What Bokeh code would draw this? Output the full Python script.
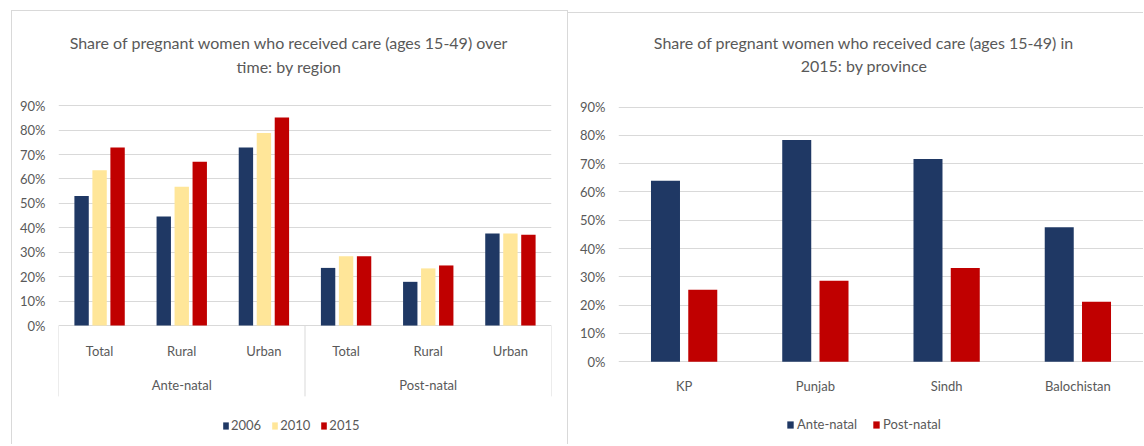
from bokeh.plotting import figure
from bokeh.models import (FactorRange, Range1d, FixedTicker, NumeralTickFormatter,
                          Legend, LegendItem, ColumnDataSource)
from bokeh.transform import dodge
from bokeh.layouts import row
from bokeh.core.properties import value
from bokeh.embed import file_html
from bokeh.resources import INLINE

# ---------------- data ----------------
care_types = ["Ante-natal", "Post-natal"]
regions = ["Total", "Rural", "Urban"]
years = ["2006", "2010", "2015"]
share_2006 = [0.530, 0.446, 0.729, 0.236, 0.179, 0.377]
share_2010 = [0.636, 0.568, 0.788, 0.284, 0.234, 0.377]
share_2015 = [0.729, 0.671, 0.852, 0.284, 0.246, 0.372]

provinces = ["KP", "Punjab", "Sindh", "Balochistan"]
ante_natal = [0.640, 0.784, 0.717, 0.475]
post_natal = [0.254, 0.286, 0.331, 0.212]
care_labels = ["Ante-natal", "Post-natal"]

pct_ticks = [0.0, 0.1, 0.2, 0.3, 0.4, 0.5, 0.6, 0.7, 0.8, 0.9]

title_left = ["Share of pregnant women who received care (ages 15-49) over", "time: by region"]
title_right = ["Share of pregnant women who received care (ages 15-49) in", "2015: by province"]

# ---------------- style ----------------
NAVY = "#1f3864"
YELLOW = "#ffe699"
RED = "#c00000"
GRID = "#d9d9d9"
TXT = "#595959"
FONT = "Lato"
BORDER = "1px solid #d9d9d9"


def style_common(p):
    p.outline_line_color = None
    p.yaxis.ticker = FixedTicker(ticks=pct_ticks)
    p.yaxis.formatter = NumeralTickFormatter(format="0%")
    p.yaxis.axis_line_color = None
    p.yaxis.major_tick_line_color = None
    p.yaxis.minor_tick_line_color = None
    p.yaxis.major_tick_out = 0
    p.yaxis.major_tick_in = 0
    p.yaxis.major_label_standoff = 13
    p.yaxis.major_label_text_font = FONT
    p.yaxis.major_label_text_font_size = "13px"
    p.yaxis.major_label_text_color = TXT
    p.ygrid.grid_line_color = GRID
    p.ygrid.grid_line_width = 1
    p.xgrid.visible = False
    p.xaxis.visible = False
    p.background_fill_color = "white"
    p.border_fill_color = "white"


def text_kw(size="13px"):
    return dict(text_align="center", text_baseline="middle", text_font=value(FONT),
                text_font_size=size, text_color=TXT)


def make_legend(items, x, y, gw, gh, spacing, standoff):
    return Legend(items=items, orientation="horizontal", location=(x, y),
                  border_line_color=None, background_fill_alpha=0,
                  label_text_font=FONT, label_text_font_size="13px", label_text_color=TXT,
                  glyph_width=gw, glyph_height=gh, label_standoff=standoff, spacing=spacing,
                  padding=0, margin=0)


# ---------------- left chart ----------------
factors = [(c, r) for c in care_types for r in regions]
src1 = ColumnDataSource(dict(cat=factors, y2006=share_2006, y2010=share_2010, y2015=share_2015))
xr1 = FactorRange(*factors, group_padding=0, factor_padding=0, range_padding=0)
p1 = figure(x_range=xr1, y_range=Range1d(-0.491, 1.2856),
            frame_width=491, frame_height=433,
            min_border_left=46, min_border_right=18, min_border_top=0, min_border_bottom=0,
            output_backend="svg", toolbar_location=None,
            margin=(10, 0, 0, 11),
            styles={"border-top": BORDER, "border-left": BORDER, "border-right": BORDER})
style_common(p1)

bw = 0.175
r06 = p1.vbar(x=dodge("cat", -0.219, range=xr1), top="y2006", width=bw, source=src1,
              fill_color=NAVY, line_color=None)
r10 = p1.vbar(x=dodge("cat", 0.0, range=xr1), top="y2010", width=bw, source=src1,
              fill_color=YELLOW, line_color=None)
r15 = p1.vbar(x=dodge("cat", 0.219, range=xr1), top="y2015", width=bw, source=src1,
              fill_color=RED, line_color=None)

# category axis (two levels) drawn below the 0% line
lab_src = ColumnDataSource(dict(x=factors, y=[-0.103] * len(factors), t=[r for _, r in factors]))
p1.text(x="x", y="y", text="t", source=lab_src, **text_kw())
grp_src = ColumnDataSource(dict(x=care_types, y=[-0.245] * len(care_types), t=care_types))
p1.text(x="x", y="y", text="t", source=grp_src, **text_kw())

sepL = ColumnDataSource(dict(f=[(c, regions[0]) for c in care_types]))
p1.segment(x0=dodge("f", -0.5, range=xr1), y0=0, x1=dodge("f", -0.5, range=xr1), y1=-0.29,
           source=sepL, line_color=GRID, line_width=1)
sepR = ColumnDataSource(dict(f=[(care_types[-1], regions[-1])]))
p1.segment(x0=dodge("f", 0.5, range=xr1), y0=0, x1=dodge("f", 0.5, range=xr1), y1=-0.29,
           source=sepR, line_color=GRID, line_width=1)

# title (two lines)
t1_src = ColumnDataSource(dict(x=[(care_types[0], regions[-1])] * 2, y=[1.158, 1.060], t=title_left))
p1.text(x=dodge("x", 0.5, range=xr1), y="y", text="t", source=t1_src, x_offset=-16,
        **text_kw("16px"))

leg1 = make_legend([LegendItem(label=years[0], renderers=[r06]),
                    LegendItem(label=years[1], renderers=[r10]),
                    LegendItem(label=years[2], renderers=[r15])],
                   164, 12, 7, 9, 10, 2)
p1.add_layout(leg1)

# ---------------- right chart ----------------
src2 = ColumnDataSource(dict(prov=provinces, ante=ante_natal, post=post_natal))
xr2 = FactorRange(*provinces, range_padding=0)
p2 = figure(x_range=xr2, y_range=Range1d(-0.2998, 1.231),
            frame_width=525, frame_height=432,
            min_border_left=50, min_border_right=0, min_border_top=0, min_border_bottom=0,
            output_backend="svg", toolbar_location=None,
            margin=(12, 0, 0, 0), styles={"border-top": BORDER})
style_common(p2)
ra = p2.vbar(x=dodge("prov", -0.142, range=xr2), top="ante", width=0.221, source=src2,
             fill_color=NAVY, line_color=None)
rp = p2.vbar(x=dodge("prov", 0.142, range=xr2), top="post", width=0.221, source=src2,
             fill_color=RED, line_color=None)

prov_src = ColumnDataSource(dict(x=provinces, y=[-0.087] * len(provinces), t=provinces))
p2.text(x="x", y="y", text="t", source=prov_src, **text_kw())

t2_src = ColumnDataSource(dict(x=[provinces[1]] * 2, y=[1.130, 1.046], t=title_right))
p2.text(x=dodge("x", 0.5, range=xr2), y="y", text="t", source=t2_src, x_offset=-17,
        **text_kw("16px"))

leg2 = make_legend([LegendItem(label=care_labels[0], renderers=[ra]),
                    LegendItem(label=care_labels[1], renderers=[rp])],
                   168, 14, 8, 9, 15, 3)
p2.add_layout(leg2)

layout = row(p1, p2, spacing=0)
open("out.html", "w").write(file_html(layout, INLINE))
